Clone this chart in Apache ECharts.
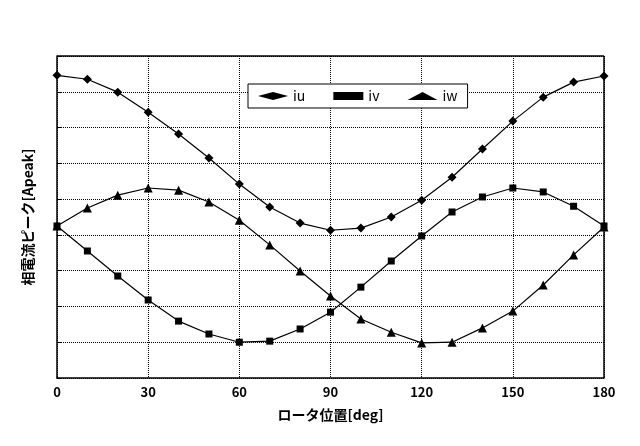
<!DOCTYPE html>
<html><head><meta charset="utf-8">
<script src="https://cdn.jsdelivr.net/npm/echarts@6/dist/echarts.min.js"></script>
<style>html,body{margin:0;background:#fff}#c{width:640px;height:446px}</style>
</head><body><div id="c"></div>
<script>
const angles = [0,10,20,30,40,50,60,70,80,90,100,110,120,130,140,150,160,170,180];
const iu = [8.46,8.35,7.99,7.43,6.82,6.15,5.42,4.78,4.33,4.13,4.19,4.5,4.97,5.61,6.4,7.18,7.85,8.27,8.44];
const iv = [4.25,3.55,2.85,2.18,1.59,1.23,1.0,1.03,1.37,1.84,2.54,3.27,3.97,4.64,5.06,5.31,5.2,4.8,4.25];
const iw = [4.25,4.75,5.11,5.31,5.25,4.92,4.41,3.72,2.99,2.29,1.65,1.28,0.98,1.0,1.4,1.87,2.6,3.44,4.22];
const xTicks = [0,30,60,90,120,150,180];
const font = '"Noto Sans CJK JP", sans-serif';
const mk = (name, data, sym, size) => ({
  name, type:'line', data: angles.map((a,i)=>[a,data[i]]), symbol: sym, symbolSize: size,
  lineStyle:{color:'#000',width:1.2}, itemStyle:{color:'#000'}
});
const chart = echarts.init(document.getElementById('c'));
chart.setOption({
  animation:false,
  grid:{left:57,right:36,top:56,bottom:68},
  legend:{top:84,left:248,itemWidth:30,itemHeight:8,itemGap:28,
    backgroundColor:'#fff',borderColor:'#000',borderWidth:1,padding:[5,10],
    textStyle:{fontFamily:font,fontSize:14,color:'#000'},
    data:[{name:'iu',icon:'diamond'},{name:'iv',icon:'rect'},{name:'iw',icon:'triangle'}]},
  xAxis:{type:'value',min:0,max:180,interval:30,
    name:'ロータ位置[deg]',nameLocation:'middle',nameGap:30,
    nameTextStyle:{fontFamily:font,fontSize:14,fontWeight:'bold',color:'#000'},
    axisLine:{lineStyle:{color:'#000',width:1.5}},axisTick:{show:false},
    axisLabel:{fontFamily:font,fontSize:13,fontWeight:'bold',color:'#000',
      formatter:v=>xTicks.includes(v)?String(v):''},
    splitLine:{show:true,lineStyle:{color:'#000',type:'dotted',width:1}}},
  yAxis:{type:'value',min:0,max:9,interval:1,
    name:'相電流ピーク[Apeak]',nameLocation:'middle',nameGap:22,
    nameTextStyle:{fontFamily:font,fontSize:14,fontWeight:'bold',color:'#000'},
    axisLine:{show:true,lineStyle:{color:'#000',width:1.5}},axisTick:{show:true,inside:true,length:5,lineStyle:{color:'#000'}},
    axisLabel:{show:false},
    splitLine:{show:true,lineStyle:{color:'#000',type:'dotted',width:1}}},
  series:[mk('iu',iu,'diamond',9),mk('iv',iv,'rect',7),mk('iw',iw,'triangle',9),
    {type:'line',data:[],markLine:{silent:true,symbol:'none',label:{show:false},
      lineStyle:{color:'#000',type:'solid',width:1.5},data:[{xAxis:180},{yAxis:9}]}}]
});
</script></body></html>
